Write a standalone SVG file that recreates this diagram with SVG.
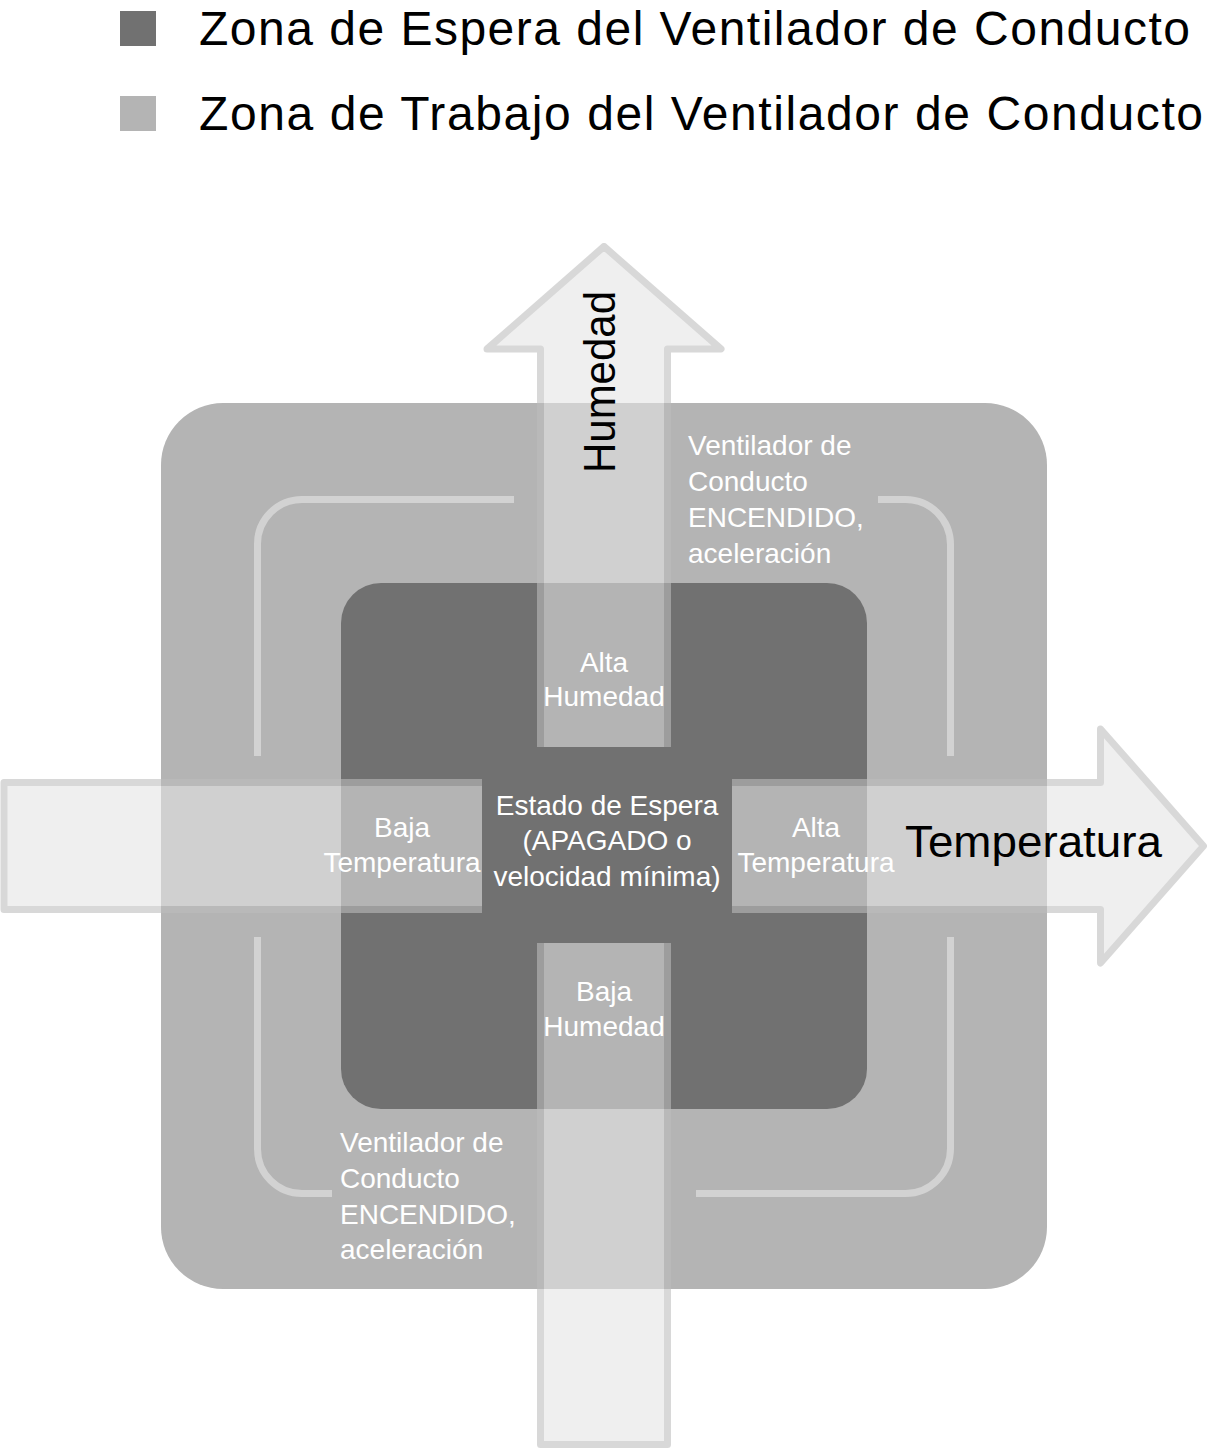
<svg xmlns="http://www.w3.org/2000/svg" width="1208" height="1451" viewBox="0 0 1208 1451">
  <style>
    .legend { font-family: "Liberation Sans", Arial, sans-serif; font-size: 48px; fill: #000000; }
    .axis { font-family: "Liberation Sans", Arial, sans-serif; font-size: 44px; fill: #000000; }
    .lbl { font-family: "Liberation Sans", Arial, sans-serif; font-size: 28px; fill: #ffffff; }
    .mid { text-anchor: middle; }
    .bracket { fill: none; stroke: #d2d2d2; stroke-width: 7; stroke-linecap: butt; }
    .arrow { fill: #e5e5e5; stroke: #bdbdbd; stroke-width: 7; stroke-linejoin: round; }
  </style>
  <rect width="1208" height="1451" fill="#ffffff"/>

  <g id="legend">
    <rect x="120" y="11" width="36" height="35" fill="#717171"/>
    <text class="legend" x="199" y="45" textLength="991" lengthAdjust="spacing">Zona de Espera del Ventilador de Conducto</text>
    <rect x="120" y="96" width="36" height="35" fill="#b4b4b4"/>
    <text class="legend" x="199" y="130" textLength="1004" lengthAdjust="spacing">Zona de Trabajo del Ventilador de Conducto</text>
  </g>

  <g id="working-zone">
    <rect x="161" y="403" width="886" height="886" rx="62" ry="62" fill="#b4b4b4"/>
  </g>
  <g id="standby-zone">
    <rect x="341" y="583" width="526" height="526" rx="40" ry="40" fill="#717171"/>
  </g>

  <g id="brackets">
    <path class="bracket" d="M514,499.5 H302 A44.5,44.5 0 0 0 257.5,544 V756"/>
    <path class="bracket" d="M878,499.5 H905 A45,45 0 0 1 950.5,544.5 V756"/>
    <path class="bracket" d="M257.5,937 V1149 A44.5,44.5 0 0 0 302,1193.5 H332"/>
    <path class="bracket" d="M696,1193.5 H905 A45,45 0 0 0 950.5,1148.5 V937"/>
  </g>

  <g id="connectors">
    <g id="temperature-axis" opacity="0.58">
      <path class="arrow" d="M4,782.5 H1100.5 V729 L1203.5,846 L1100.5,963 V909.5 H4 Z"/>
    </g>
    <g id="humidity-axis" opacity="0.58">
      <path class="arrow" d="M540.5,1444.5 V349 H487 L604,246.5 L721,349 H667.5 V1444.5 Z"/>
    </g>
  </g>

  <g id="standby-state">
    <rect x="482" y="747" width="250" height="196" fill="#717171"/>
    <text class="lbl mid" x="607" y="815">Estado de Espera</text>
    <text class="lbl mid" x="607" y="850">(APAGADO o</text>
    <text class="lbl mid" x="607" y="886">velocidad mínima)</text>
  </g>

  <g id="high-humidity">
    <text class="lbl mid" x="604" y="672">Alta</text>
    <text class="lbl mid" x="604" y="706">Humedad</text>
  </g>
  <g id="low-humidity">
    <text class="lbl mid" x="604" y="1001">Baja</text>
    <text class="lbl mid" x="604" y="1036">Humedad</text>
  </g>
  <g id="low-temperature">
    <text class="lbl mid" x="402" y="837">Baja</text>
    <text class="lbl mid" x="402" y="872">Temperatura</text>
  </g>
  <g id="high-temperature">
    <text class="lbl mid" x="816" y="837">Alta</text>
    <text class="lbl mid" x="816" y="872">Temperatura</text>
  </g>

  <g id="fan-on-top">
    <text class="lbl" x="688" y="455">Ventilador de</text>
    <text class="lbl" x="688" y="491">Conducto</text>
    <text class="lbl" x="688" y="527">ENCENDIDO,</text>
    <text class="lbl" x="688" y="563">aceleración</text>
  </g>
  <g id="fan-on-bottom">
    <text class="lbl" x="340" y="1152">Ventilador de</text>
    <text class="lbl" x="340" y="1188">Conducto</text>
    <text class="lbl" x="340" y="1224">ENCENDIDO,</text>
    <text class="lbl" x="340" y="1259">aceleración</text>
  </g>

  <g id="axis-labels">
    <text class="axis" transform="translate(615,473) rotate(-90)" textLength="182" lengthAdjust="spacingAndGlyphs">Humedad</text>
    <text class="axis" x="905" y="857" textLength="257" lengthAdjust="spacingAndGlyphs">Temperatura</text>
  </g>
</svg>
